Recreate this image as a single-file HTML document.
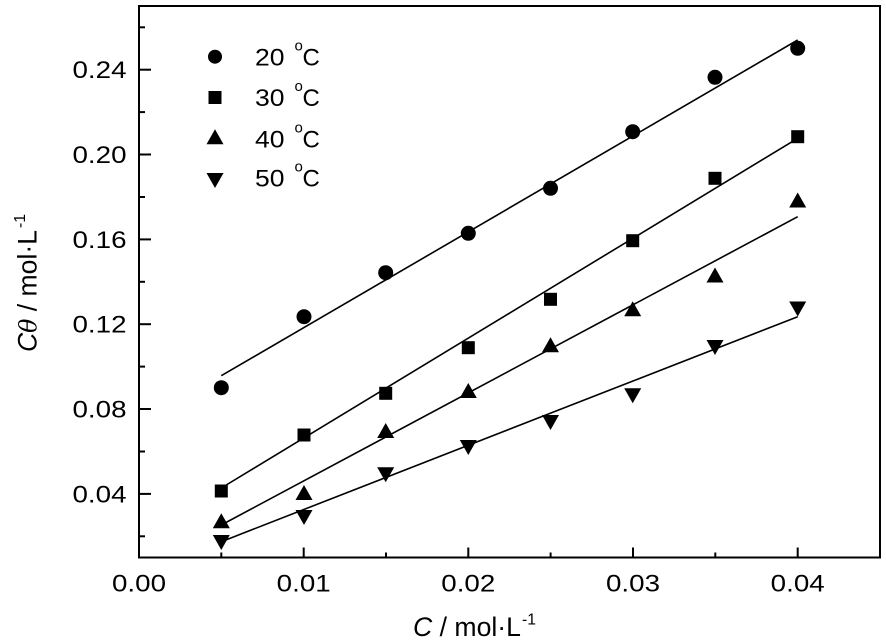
<!DOCTYPE html>
<html><head><meta charset="utf-8"><style>
html,body{margin:0;padding:0;background:#fff;}
svg{display:block;}
text{font-family:"Liberation Sans",Arial,sans-serif;fill:#000;}
</style></head><body>
<svg width="886" height="643" viewBox="0 0 886 643" xmlns="http://www.w3.org/2000/svg">
<rect x="0" y="0" width="886" height="643" fill="#fff"/>
<!-- frame -->
<rect x="139" y="6" width="741" height="551.5" fill="none" stroke="#000" stroke-width="2"/>
<!-- x ticks -->
<g stroke="#000" stroke-width="2">
<line x1="303.7" y1="557.5" x2="303.7" y2="547.5"/>
<line x1="468.3" y1="557.5" x2="468.3" y2="547.5"/>
<line x1="633" y1="557.5" x2="633" y2="547.5"/>
<line x1="797.7" y1="557.5" x2="797.7" y2="547.5"/>
<line x1="221.3" y1="557.5" x2="221.3" y2="552.5"/>
<line x1="386" y1="557.5" x2="386" y2="552.5"/>
<line x1="550.6" y1="557.5" x2="550.6" y2="552.5"/>
<line x1="715.3" y1="557.5" x2="715.3" y2="552.5"/>
<!-- y ticks -->
<line x1="139" y1="493.9" x2="151" y2="493.9"/>
<line x1="139" y1="409" x2="151" y2="409"/>
<line x1="139" y1="324.2" x2="151" y2="324.2"/>
<line x1="139" y1="239.4" x2="151" y2="239.4"/>
<line x1="139" y1="154.5" x2="151" y2="154.5"/>
<line x1="139" y1="69.7" x2="151" y2="69.7"/>
<line x1="139" y1="536.3" x2="145" y2="536.3"/>
<line x1="139" y1="451.5" x2="145" y2="451.5"/>
<line x1="139" y1="366.6" x2="145" y2="366.6"/>
<line x1="139" y1="281.8" x2="145" y2="281.8"/>
<line x1="139" y1="197" x2="145" y2="197"/>
<line x1="139" y1="112.1" x2="145" y2="112.1"/>
<line x1="139" y1="27.3" x2="145" y2="27.3"/>
</g>
<!-- y labels -->
<g font-size="24" text-anchor="end">
<text x="126.5" y="502.4" textLength="54" lengthAdjust="spacingAndGlyphs">0.04</text>
<text x="126.5" y="417.5" textLength="54" lengthAdjust="spacingAndGlyphs">0.08</text>
<text x="126.5" y="332.7" textLength="54" lengthAdjust="spacingAndGlyphs">0.12</text>
<text x="126.5" y="247.9" textLength="54" lengthAdjust="spacingAndGlyphs">0.16</text>
<text x="126.5" y="163" textLength="54" lengthAdjust="spacingAndGlyphs">0.20</text>
<text x="126.5" y="78.2" textLength="54" lengthAdjust="spacingAndGlyphs">0.24</text>
</g>
<!-- x labels -->
<g font-size="24" text-anchor="middle">
<text x="139" y="591.7" textLength="54" lengthAdjust="spacingAndGlyphs">0.00</text>
<text x="303.7" y="591.7" textLength="54" lengthAdjust="spacingAndGlyphs">0.01</text>
<text x="468.3" y="591.7" textLength="54" lengthAdjust="spacingAndGlyphs">0.02</text>
<text x="633" y="591.7" textLength="54" lengthAdjust="spacingAndGlyphs">0.03</text>
<text x="797.7" y="591.7" textLength="54" lengthAdjust="spacingAndGlyphs">0.04</text>
</g>
<!-- x title -->
<text x="413" y="636" font-size="27" textLength="108" lengthAdjust="spacingAndGlyphs"><tspan font-style="italic">C</tspan> / mol·L</text>
<text x="522" y="624.5" font-size="16" textLength="14" lengthAdjust="spacingAndGlyphs">-1</text>
<!-- y title -->
<g transform="translate(36.5,352) rotate(-90)">
<text x="0" y="0" font-size="27" textLength="122" lengthAdjust="spacingAndGlyphs"><tspan font-style="italic">C</tspan><tspan font-style="italic" font-family="DejaVu Serif, serif" font-size="24">θ</tspan> / mol·L</text>
<text x="124" y="-11.5" font-size="16" textLength="14" lengthAdjust="spacingAndGlyphs">-1</text>
</g>
<!-- fit lines -->
<g stroke="#000" stroke-width="1.6" fill="none">
<line x1="221.3" y1="375.7" x2="797.7" y2="40"/>
<line x1="221.3" y1="488" x2="797.7" y2="138.3"/>
<line x1="221.3" y1="525" x2="797.7" y2="216.7"/>
<line x1="221.3" y1="541.7" x2="797.7" y2="316.7"/>
</g>
<!-- 20 C circles -->
<g fill="#000">
<circle cx="221.3" cy="387.7" r="7.5"/>
<circle cx="304" cy="316.7" r="7.5"/>
<circle cx="385.7" cy="272.7" r="7.5"/>
<circle cx="468.3" cy="233.3" r="7.5"/>
<circle cx="550.5" cy="188.3" r="7.5"/>
<circle cx="632.7" cy="131.7" r="7.5"/>
<circle cx="715" cy="77.3" r="7.5"/>
<circle cx="797.7" cy="48.3" r="7.5"/>
</g>
<!-- 30 C squares -->
<g fill="#000">
<rect x="214.8" y="484.5" width="13" height="13"/>
<rect x="297.5" y="428.5" width="13" height="13"/>
<rect x="379.2" y="386.8" width="13" height="13"/>
<rect x="461.8" y="341.2" width="13" height="13"/>
<rect x="544" y="292.8" width="13" height="13"/>
<rect x="626.2" y="234.2" width="13" height="13"/>
<rect x="708.5" y="171.8" width="13" height="13"/>
<rect x="791.2" y="130.2" width="13" height="13"/>
</g>
<!-- 40 C triangles up -->
<g fill="#000">
<polygon points="212.8,528.3 229.8,528.3 221.3,513.3"/>
<polygon points="295.5,500 312.5,500 304,485"/>
<polygon points="377.2,438 394.2,438 385.7,423"/>
<polygon points="459.8,398 476.8,398 468.3,383"/>
<polygon points="542,352.2 559,352.2 550.5,337.2"/>
<polygon points="624.2,316.3 641.2,316.3 632.7,301.3"/>
<polygon points="706.5,282.5 723.5,282.5 715,267.5"/>
<polygon points="789.2,207.5 806.2,207.5 797.7,192.5"/>
</g>
<!-- 50 C triangles down -->
<g fill="#000">
<polygon points="212.8,535 229.8,535 221.3,550"/>
<polygon points="295.5,510 312.5,510 304,525"/>
<polygon points="377.2,467.3 394.2,467.3 385.7,482.3"/>
<polygon points="459.8,440 476.8,440 468.3,455"/>
<polygon points="542,415 559,415 550.5,430"/>
<polygon points="624.2,388.3 641.2,388.3 632.7,403.3"/>
<polygon points="706.5,340 723.5,340 715,355"/>
<polygon points="789.2,301.5 806.2,301.5 797.7,316.5"/>
</g>
<!-- legend -->
<g fill="#000">
<circle cx="215" cy="56.7" r="7"/>
<rect x="208.5" y="91" width="13" height="13"/>
<polygon points="206.5,144.2 223.5,144.2 215,129.2"/>
<polygon points="206.5,173 223.5,173 215,188"/>
</g>
<g font-size="24">
<text x="255" y="65.7" textLength="29.5" lengthAdjust="spacingAndGlyphs">20</text>
<text x="294.5" y="50.7" font-size="15">o</text>
<text x="302.5" y="65.7">C</text>
<text x="255" y="106" textLength="29.5" lengthAdjust="spacingAndGlyphs">30</text>
<text x="294.5" y="91" font-size="15">o</text>
<text x="302.5" y="106">C</text>
<text x="255" y="147.3" textLength="29.5" lengthAdjust="spacingAndGlyphs">40</text>
<text x="294.5" y="132.3" font-size="15">o</text>
<text x="302.5" y="147.3">C</text>
<text x="255" y="186.7" textLength="29.5" lengthAdjust="spacingAndGlyphs">50</text>
<text x="294.5" y="171.7" font-size="15">o</text>
<text x="302.5" y="186.7">C</text>
</g>
</svg>
</body></html>
